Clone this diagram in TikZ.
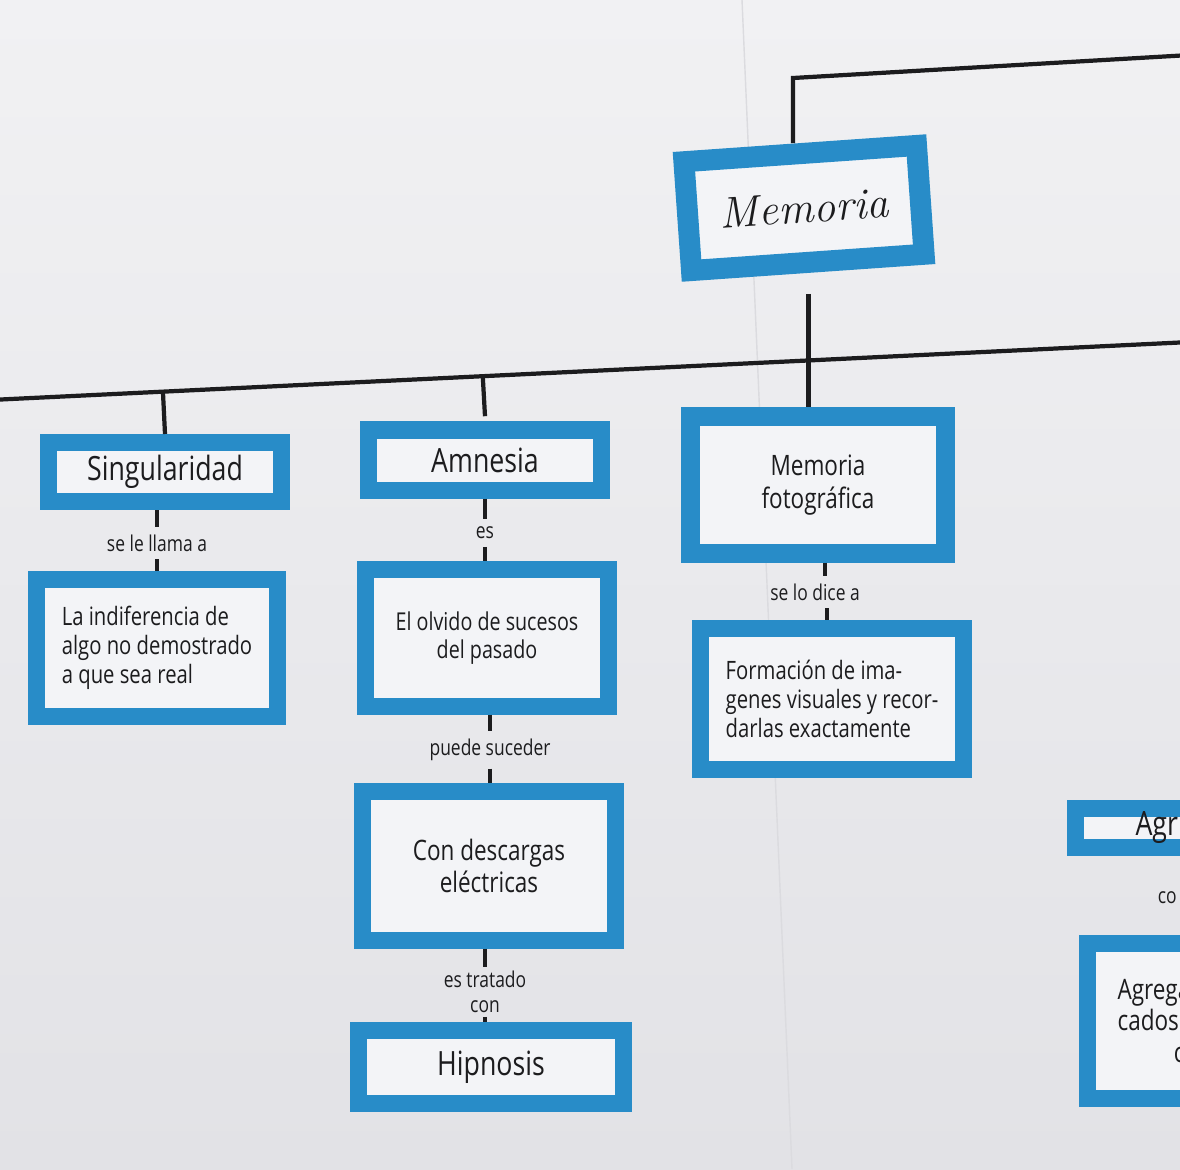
\documentclass[tikz,border=0pt]{standalone}
\usepackage{fontspec}
\newfontfamily\hand[FakeStretch=0.8]{Open Sans}
\usetikzlibrary{calc}

\definecolor{paper}{RGB}{226,226,230}
\definecolor{paperlight}{RGB}{241,241,243}
\definecolor{seam}{RGB}{219,219,223}
\definecolor{cardblue}{RGB}{40,140,200}
\definecolor{cardwhite}{RGB}{243,244,247}
\definecolor{ink}{RGB}{28,28,30}

\tikzset{
  card/.style={draw=cardblue, fill=cardwhite, line width=0.17cm, align=center,
    text=ink, inner sep=0pt},
  linklabel/.style={text=ink, font=\hand\fontsize{6.2}{7}\selectfont,
    inner sep=2pt, align=center},
  link/.style={ink, line width=1.2pt}
}

\begin{document}
\begin{tikzpicture}[x=0.01cm, y=-0.01cm]

	% Paper
	\useasboundingbox (0,0) rectangle (1180,1169);
	\shade[top color=paperlight, bottom color=paper] (0,0) rectangle (1180,1169);
	\clip (0,0) rectangle (1180,1169);
	\draw[seam, line width=0.4pt] (742,0) -- (792,1169);

	% Cards
	\node[card, rotate=4, line width=0.21cm, minimum width=2.33cm, minimum height=1.09cm,
	  font=\normalfont\itshape\fontsize{12.5}{15}\selectfont] (mem) at (804,208) {Memoria};

	\node[card, minimum width=2.33cm, minimum height=0.59cm,
	  font=\hand\fontsize{9.5}{11}\selectfont] (sing) at (165,472) {Singularidad};
	\node[card, minimum width=2.33cm, minimum height=0.60cm,
	  font=\hand\fontsize{9.5}{11}\selectfont] (amn) at (485,460) {Amnesia};
	\node[card, line width=0.19cm, minimum width=2.54cm, minimum height=1.36cm,
	  font=\hand\fontsize{8}{9.5}\selectfont] (mfot) at (818,485) {Memoria\\fotográfica};

	\node[card, minimum width=2.40cm, minimum height=1.36cm, align=left,
	  font=\hand\fontsize{7.2}{8.2}\selectfont] (indif) at (157,648)
	  {La indiferencia de\\algo no demostrado\\a que sea real};
	\node[card, minimum width=2.43cm, minimum height=1.36cm,
	  font=\hand\fontsize{7}{8}\selectfont] (olv) at (487,638)
	  {El olvido de sucesos\\del pasado};
	\node[card, minimum width=2.62cm, minimum height=1.40cm, align=left,
	  font=\hand\fontsize{7.2}{8.2}\selectfont] (form) at (832,699)
	  {Formación de ima-\\genes visuales y recor-\\darlas exactamente};
	\node[card, minimum width=2.53cm, minimum height=1.48cm,
	  font=\hand\fontsize{8}{9}\selectfont] (desc) at (489,866)
	  {Con descargas\\eléctricas};
	\node[card, minimum width=2.65cm, minimum height=0.73cm,
	  font=\hand\fontsize{9.5}{11}\selectfont] (hip) at (491,1067) {Hipnosis};

	% Cards cut by the edge
	\node[card, anchor=west, align=left, text width=2cm, inner xsep=0.6cm,
	  minimum height=0.39cm, font=\hand\fontsize{9.5}{11}\selectfont] (agr) at (1067,828) {Agr};
	\node[card, anchor=west, align=left, text width=2cm, inner xsep=0.3cm,
	  minimum height=1.54cm, font=\hand\fontsize{8}{9}\selectfont] (agrb) at (1079,1021)
	  {Agrega\\cados\\\hspace*{16pt}c};

	% Link words
	\node[linklabel] (l1) at (157,543) {se le llama a};
	\node[linklabel] (l2) at (485,533) {es};
	\node[linklabel] (l3) at (815,592) {se lo dice a};
	\node[linklabel] (l4) at (490,750) {puede suceder};
	\node[linklabel, inner sep=1pt] (l5) at (485,992) {es tratado\\con};
	\node[linklabel, anchor=west] (l6) at (1150,898) {co};

	% Top lines
	\coordinate (tc) at (793,78);
	\coordinate (te) at (1190,55);
	\draw[link] (mem.north -| tc) -- (tc) -- (te);

	\coordinate (hl) at (-10,400);
	\coordinate (hr) at (1190,342);
	\draw[link] (hl) -- (hr);
	\draw[link] ([yshift=-6pt]mem.south) -- (mem.south |- mfot.north);
	\draw[link] ($(hl)!(sing.north)!(hr)$) -- (sing.north);
	\draw[link] ($(hl)!(amn.north)!(hr)$) -- ([yshift=1.5pt]amn.north);

	% Links with words
	\draw[link] (l1.north |- sing.south) -- (l1.north);
	\draw[link] (l1.south) -- (l1.south |- indif.north);
	\draw[link] (l2.north |- amn.south) -- (l2.north);
	\draw[link] (l2.south) -- (l2.south |- olv.north);
	\draw[link] ([xshift=2.8pt]l3.north |- mfot.south) -- ([xshift=2.8pt]l3.north);
	\draw[link] ([xshift=3.5pt]l3.south) -- ([xshift=3.5pt]l3.south |- form.north);
	\draw[link] (l4.north |- olv.south) -- (l4.north);
	\draw[link] (l4.south) -- (l4.south |- desc.north);
	\draw[link] (l5.north |- desc.south) -- (l5.north);
	\draw[link] (l5.south) -- (l5.south |- hip.north);

\end{tikzpicture}
\end{document}
